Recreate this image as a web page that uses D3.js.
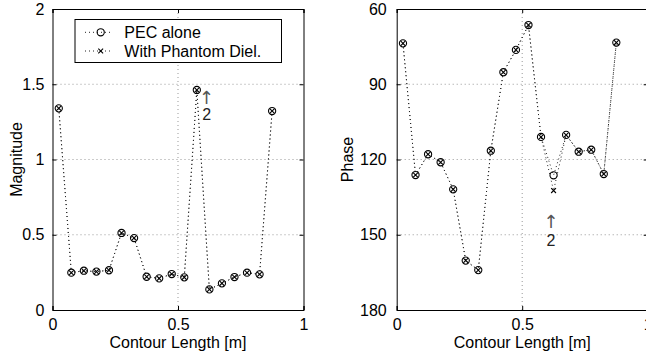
<!DOCTYPE html>
<html>
<head>
<meta charset="utf-8">
<script src="https://cdn.jsdelivr.net/npm/d3@7"></script>
<style>
  body { margin: 0; background: #fff; }
  text { font-family: "Liberation Sans", Arial, sans-serif; }
</style>
</head>
<body>
<div id="chart"></div>
<script>
// Data
const contour = [0.025, 0.075, 0.125, 0.175, 0.225, 0.275, 0.325, 0.375, 0.425,
                 0.475, 0.525, 0.575, 0.625, 0.675, 0.725, 0.775, 0.825, 0.875];
const magPEC = [1.34, 0.248, 0.261, 0.255, 0.264, 0.512, 0.478, 0.221, 0.210,
                0.239, 0.217, 1.462, 0.137, 0.177, 0.219, 0.248, 0.237, 1.322];
const magDiel = [1.34, 0.248, 0.261, 0.255, 0.264, 0.512, 0.478, 0.221, 0.210,
                 0.239, 0.217, 1.462, 0.137, 0.177, 0.219, 0.248, 0.237, 1.322];
const phasePEC = [73.7, 126.2, 117.9, 121.1, 131.9, 160.3, 164.1, 116.5, 85.2,
                  76.3, 66.4, 111.0, 126.3, 110.2, 116.9, 116.1, 125.8, 73.4];
const phaseDiel = [73.7, 126.2, 117.9, 121.1, 131.9, 160.3, 164.1, 116.5, 85.2,
                   76.3, 66.4, 111.0, 132.4, 110.2, 116.9, 116.1, 125.8, 73.4];
const xTicks = [0, 0.5, 1];
const magTicks = [0, 0.5, 1, 1.5, 2];
const phaseTicks = [60, 90, 120, 150, 180];
const legendLabels = ["PEC alone", "With Phantom Diel."];

const W = 646, H = 355;
const svg = d3.select("#chart").append("svg")
    .attr("width", W)
    .attr("height", H);

// draw one panel
function panel(opt) {
    const x = d3.scaleLinear().domain([0, 1]).range([opt.left, opt.left + 251]);
    const y = d3.scaleLinear().domain(opt.yDomain).range([310, 9]);
    const g = svg.append("g");

    // grid
    g.selectAll(".gx").data(xTicks.slice(1, -1)).enter().append("line")
        .attr("x1", d => x(d)).attr("x2", d => x(d))
        .attr("y1", 9).attr("y2", 310)
        .attr("stroke", "#999").attr("stroke-dasharray", "1,3");
    g.selectAll(".gy").data(opt.yTicks.slice(1, -1)).enter().append("line")
        .attr("x1", x(0)).attr("x2", x(1))
        .attr("y1", d => y(d)).attr("y2", d => y(d))
        .attr("stroke", "#999").attr("stroke-dasharray", "1,3");

    // axes
    const xAxis = d3.axisBottom(x).tickValues(xTicks).tickSize(-4).tickPadding(9)
        .tickFormat(d3.format("~g"));
    const yAxis = d3.axisLeft(y).tickValues(opt.yTicks).tickSize(-4).tickPadding(opt.pad)
        .tickFormat(d3.format("~g"));
    const ax = g.append("g").attr("transform", "translate(0,310)").call(xAxis);
    const ay = g.append("g").attr("transform", "translate(" + opt.left + ",0)").call(yAxis);
    g.append("g").attr("transform", "translate(0,9)")
        .call(d3.axisTop(x).tickValues(xTicks).tickSize(-4).tickFormat(""));
    g.append("g").attr("transform", "translate(" + x(1) + ",0)")
        .call(d3.axisRight(y).tickValues(opt.yTicks).tickSize(-4).tickFormat(""));
    [ax, ay].forEach(a => a.selectAll("text").style("font-size", "16px").attr("fill", "#000"));
    g.selectAll(".domain").attr("stroke", "#000");
    g.selectAll(".tick line").attr("stroke", "#000");

    // series
    const line = d3.line().x(d => x(d[0])).y(d => y(d[1]));
    opt.series.forEach((vals, k) => {
        const pts = contour.map((c, i) => [c, vals[i]]);
        g.append("path").datum(pts)
            .attr("d", line)
            .attr("fill", "none")
            .attr("stroke", "#222")
            .attr("stroke-width", 1)
            .attr("stroke-dasharray", "1,3");
        pts.forEach(p => marker(g, k, x(p[0]), y(p[1])));
    });

    // annotation
    g.append("text").attr("x", x(opt.note[0])).attr("y", y(opt.note[1]))
        .attr("text-anchor", "middle").attr("dy", "0.35em")
        .style("font-family", "'DejaVu Sans', sans-serif")
        .style("font-size", "18px").attr("fill", "#555").text("\u2191");
    g.append("text").attr("x", x(opt.note[0])).attr("y", y(opt.note[2]))
        .attr("text-anchor", "middle").attr("dy", "0.35em")
        .style("font-size", "16px").attr("fill", "#222").text("2");

    // axis labels
    g.append("text")
        .attr("x", (x(0) + x(1)) / 2).attr("y", 348)
        .attr("text-anchor", "middle").style("font-size", "16px")
        .text("Contour Length [m]");
    g.append("text")
        .attr("transform", "translate(" + opt.labelX + ",159.5) rotate(-90)")
        .attr("text-anchor", "middle").style("font-size", "16px")
        .text(opt.label);
}

function marker(g, k, cx, cy) {
    if (k === 0) {
        g.append("circle").attr("cx", cx).attr("cy", cy).attr("r", 3.6)
            .attr("fill", "none").attr("stroke", "#000").attr("stroke-width", 1.1);
    } else {
        const s = 2.4;
        g.append("path")
            .attr("d", `M${cx - s},${cy - s}L${cx + s},${cy + s}M${cx - s},${cy + s}L${cx + s},${cy - s}`)
            .attr("stroke", "#000").attr("stroke-width", 1.1);
    }
}

panel({ left: 52.5, yDomain: [0, 2], yTicks: magTicks, pad: 8, labelX: 21.5,
        label: "Magnitude", series: [magPEC, magDiel], note: [0.614, 1.41, 1.30] });
panel({ left: 396.7, yDomain: [180, 60], yTicks: phaseTicks, pad: 10, labelX: 353,
        label: "Phase", series: [phasePEC, phaseDiel], note: [0.615, 144.8, 152.4] });

// legend
const lg = svg.append("g");
lg.append("rect").attr("x", 75).attr("y", 19.5).attr("width", 206.5).attr("height", 43)
    .attr("fill", "#fff").attr("stroke", "#000");
legendLabels.forEach((t, k) => {
    const cy = k === 0 ? 32.3 : 51;
    lg.append("line").attr("x1", 85).attr("x2", 112).attr("y1", cy).attr("y2", cy)
        .attr("stroke", "#222").attr("stroke-dasharray", "1,3");
    marker(lg, k, 100.7, cy);
    lg.append("text").attr("x", 124.3).attr("y", k === 0 ? 37.7 : 56.7)
        .style("font-size", "16px").text(t);
});
</script>
</body>
</html>
